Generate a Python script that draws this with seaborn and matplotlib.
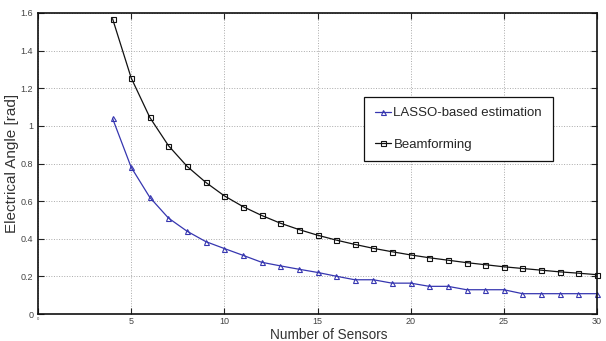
import matplotlib
matplotlib.use("Agg")
import matplotlib.pyplot as plt
import seaborn as sns
import pandas as pd

sensors = list(range(4, 31))
beamforming = [1.57, 1.255, 1.045, 0.895, 0.785, 0.70, 0.628, 0.571, 0.524, 0.483,
               0.449, 0.419, 0.393, 0.370, 0.349, 0.331, 0.314, 0.299, 0.286, 0.273,
               0.262, 0.251, 0.242, 0.233, 0.224, 0.217, 0.209]
lasso = [1.04, 0.78, 0.62, 0.51, 0.44, 0.385, 0.348, 0.312, 0.275, 0.256,
         0.238, 0.221, 0.201, 0.182, 0.182, 0.164, 0.164, 0.147, 0.147, 0.129,
         0.129, 0.129, 0.108, 0.108, 0.108, 0.108, 0.108]
xticks = [0, 5, 10, 15, 20, 25, 30]
yticks = [0, 0.2, 0.4, 0.6, 0.8, 1.0, 1.2, 1.4, 1.6]

df = pd.DataFrame({
    "Number of Sensors": sensors * 2,
    "value": lasso + beamforming,
    "method": ["LASSO-based estimation"] * len(sensors) + ["Beamforming"] * len(sensors),
})

sns.set_style("ticks")
plt.rcParams['font.family'] = ['Liberation Sans', 'DejaVu Sans']

fig = plt.figure(figsize=(6.06, 3.41), dpi=100)
ax = fig.add_axes([38/606, 1 - 314/341, (597-38)/606, (314-13)/341])

palette = {"LASSO-based estimation": "#3636b0", "Beamforming": "#111111"}
markers = {"LASSO-based estimation": "^", "Beamforming": "s"}
sns.lineplot(data=df, x="Number of Sensors", y="value", hue="method", style="method",
             palette=palette, markers=markers, dashes=False, markersize=3.6,
             markerfacecolor="none", markeredgewidth=0.8, linewidth=0.9, ax=ax)
for line, m in zip(ax.lines, ["LASSO-based estimation", "Beamforming"]):
    line.set_markeredgecolor(palette[m])
    line.set_markerfacecolor("none")
    line.set_clip_on(False)

ax.set_xlim(0, 30)
ax.set_ylim(0, 1.6)
ax.set_xticks(xticks)
ax.set_yticks(yticks)
ax.set_xticklabels([str(t) for t in xticks])
ax.set_yticklabels(["0", "0.2", "0.4", "0.6", "0.8", "1", "1.2", "1.4", "1.6"])
ax.tick_params(direction="in", top=True, right=True, labelsize=6.5, length=4,
               width=0.8, colors="#222222", labelcolor="#444444")
ax.tick_params(axis="x", pad=2.5)
ax.xaxis.get_ticklabels()[0].set_fontsize(3)
ax.grid(True, linestyle=":", color="#aaaaaa", linewidth=0.7)
for s in ax.spines.values():
    s.set_linewidth(1.2)
    s.set_color("#111111")
ax.set_xlabel("Number of Sensors", fontsize=9.8, labelpad=0, color="#333333")
ax.xaxis.set_label_coords(0.52, -0.045, transform=ax.transAxes)
ax.xaxis.label.set_verticalalignment("top")
ax.set_ylabel("Electrical Angle [rad]", fontsize=11, labelpad=1, color="#333333")

leg = ax.legend(loc="upper left", bbox_to_anchor=(0.584, 0.722), fontsize=9.5,
                handlelength=1.2, handletextpad=0.2, borderpad=0.8, labelspacing=1.45,
                borderaxespad=0,
                frameon=True, fancybox=False, edgecolor="#111111", framealpha=1)
leg.get_frame().set_linewidth(0.9)
for h, m in zip(leg.legend_handles, ["LASSO-based estimation", "Beamforming"]):
    h.set_markerfacecolor("none")
    h.set_markeredgecolor(palette[m])
    h.set_markeredgewidth(0.8)
    h.set_markersize(3.6)

fig.savefig("out.png", dpi=100)
